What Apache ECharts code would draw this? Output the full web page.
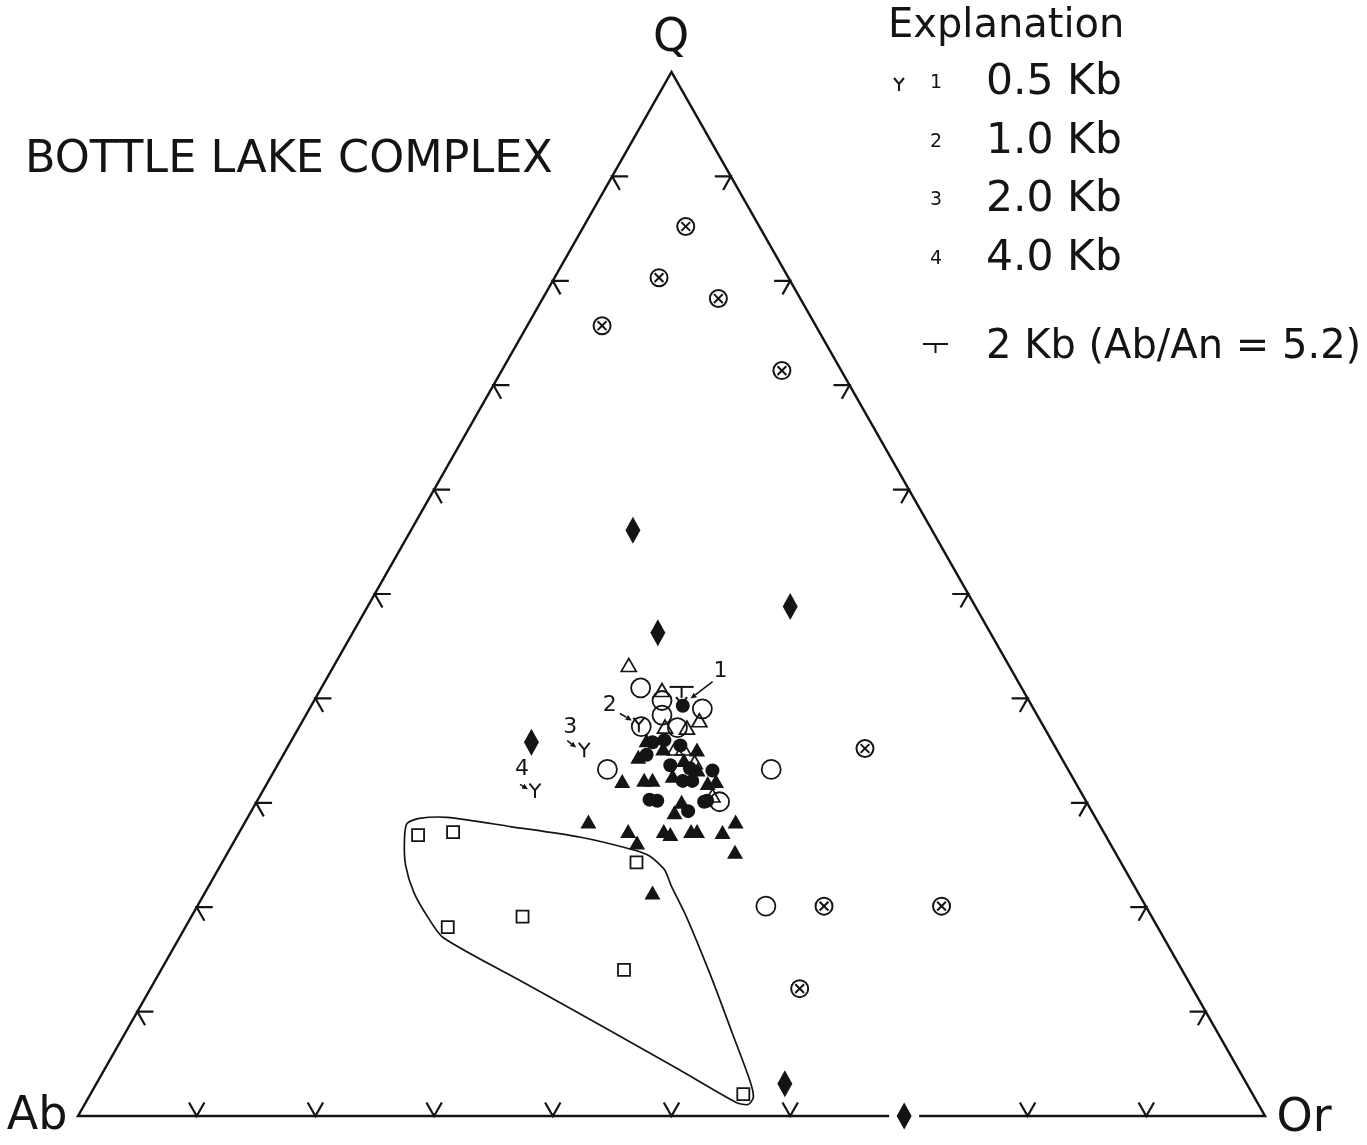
<!DOCTYPE html>
<html>
<head>
<meta charset="utf-8">
<script src="https://cdn.jsdelivr.net/npm/echarts@6/dist/echarts.min.js"></script>
<style>
  html, body { margin: 0; padding: 0; background: #ffffff; }
  #chart { width: 1367px; height: 1145px; }
</style>
</head>
<body>
<div id="chart"></div>
<script>
// Normative compositions, each as [Q, Ab, Or] in percent.
const crossedCircles = [
  [85.2, 6.2, 8.6], [80.3, 10.9, 8.8], [78.3, 6.9, 14.8], [75.7, 18.0, 6.3],
  [71.4, 5.0, 23.6], [35.2, 16.1, 48.7], [20.1, 27.1, 52.8], [20.1, 17.2, 62.7],
  [12.2, 33.1, 54.7]
];
const diamonds = [
  [56.1, 25.2, 18.7], [48.8, 15.6, 35.6], [46.3, 28.0, 25.7], [35.8, 43.9, 20.3],
  [3.1, 38.9, 58.0], [0.0, 30.4, 69.6]
];
const openSquares = [
  [26.9, 57.9, 15.2], [27.2, 54.8, 18.0], [18.1, 59.8, 22.1], [19.1, 53.0, 27.9],
  [14.0, 47.0, 39.0], [24.3, 40.8, 34.9], [2.1, 42.9, 55.0]
];
const openCircles = [
  [41.0, 32.1, 26.9], [39.8, 30.9, 29.3], [38.4, 31.6, 30.0], [39.0, 27.9, 33.1],
  [37.3, 33.9, 28.8], [37.2, 30.9, 31.9], [30.1, 30.9, 39.0], [33.2, 38.8, 28.0],
  [33.2, 25.0, 41.8], [20.1, 32.0, 47.9]
];
const openTriangles = [
  [43.2, 32.0, 24.8], [40.8, 30.4, 28.8], [37.9, 28.7, 33.4], [37.3, 31.9, 30.8],
  [37.2, 30.1, 32.7], [35.2, 32.1, 32.7], [35.2, 31.4, 33.4], [33.9, 31.1, 35.0],
  [30.7, 31.2, 38.1]
];
const filledTriangles = [
  [28.2, 42.9, 28.9], [27.3, 40.0, 32.7], [26.2, 39.8, 34.0], [27.3, 37.0, 35.7],
  [27.0, 36.6, 36.4], [27.3, 34.7, 38.0], [27.3, 34.2, 38.5], [27.2, 32.1, 40.7],
  [28.2, 30.5, 41.3], [25.3, 32.0, 42.7], [21.4, 40.9, 37.7], [32.1, 38.1, 29.8],
  [32.2, 36.2, 31.6], [32.2, 35.5, 32.3], [29.1, 35.2, 35.7], [30.1, 34.1, 35.8],
  [35.1, 30.3, 34.6], [33.2, 31.2, 35.6], [31.9, 31.0, 37.1], [32.6, 33.6, 33.8],
  [34.4, 35.6, 30.0], [36.0, 34.1, 29.9], [35.2, 33.1, 31.7], [34.1, 31.9, 34.0],
  [32.1, 30.2, 37.7]
];
const filledCircles = [
  [34.6, 34.8, 30.6], [30.3, 36.7, 33.0], [30.2, 36.1, 33.7], [33.6, 33.3, 33.1],
  [32.1, 33.0, 34.9], [32.1, 32.2, 35.7], [33.1, 30.0, 36.9], [30.2, 31.9, 37.9],
  [29.2, 34.0, 36.8], [30.1, 32.2, 37.7], [36.0, 32.6, 31.4], [35.5, 31.5, 33.0],
  [35.8, 33.7, 30.5], [33.3, 31.8, 34.9], [39.3, 29.4, 31.3]
];
// Experimental minimum-melt compositions at 0.5, 1.0, 2.0 and 4.0 kb
const minimumMelts = [
  [39.5, 29.4, 31.1], [37.5, 34.0, 28.5], [35.1, 39.8, 25.1], [31.2, 45.9, 22.9]
];
const minimumMeltLabels = ['1', '2', '3', '4'];
// 2 kb minimum for Ab/An = 5.2
const anorthiteMinimum = [[41.1, 28.6, 30.3]];
// Field enclosing the open squares
const squareField = [
  [28.0, 58.3, 13.7], [28.5, 57.0, 14.5], [28.6, 54.6, 16.8], [27.7, 49.6, 22.7],
  [26.7, 44.3, 29.0], [25.5, 40.5, 34.0], [24.9, 39.4, 35.7], [23.6, 38.8, 37.6],
  [22.0, 39.0, 39.0], [19.1, 39.2, 41.7], [13.3, 40.0, 46.7], [8.0, 40.9, 51.1],
  [3.4, 41.7, 54.9], [1.8, 42.2, 56.0], [1.1, 43.0, 55.9], [1.3, 43.9, 54.8],
  [4.4, 47.1, 48.5], [8.0, 50.9, 41.1], [13.0, 56.3, 30.7], [17.1, 60.7, 22.2],
  [19.0, 61.0, 20.0], [21.4, 61.0, 17.6], [24.0, 60.4, 15.6], [26.4, 59.3, 14.3]
];
const apexes = [[0, 100, 0], [100, 0, 0], [0, 0, 100]]; // Ab, Q, Or
const tickValues = [10, 20, 30, 40, 50, 60, 70, 80, 90];
const legendRows = ['0.5 Kb', '1.0 Kb', '2.0 Kb', '4.0 Kb'];

const INK = '#141414';
const FONT = "'DejaVu Sans', 'Liberation Sans', sans-serif";

// Ternary [Q, Ab, Or] -> plotting plane (x = Or + Q/2, y = Q)
function toXY(c) {
  const s = c[0] + c[1] + c[2];
  const q = c[0] / s * 100, or = c[2] / s * 100;
  return [or + q / 2, q];
}

// Pixel offsets for the minimum-melt annotations (label, arrow tail, arrow tip)
const meltAnnotation = [
  { label: [39, -32], from: [31, -22], to: [9, -5] },
  { label: [-29, -19], from: [-19, -11], to: [-7, -4] },
  { label: [-14, -22], from: [-17, -9], to: [-8, -2] },
  { label: [-13, -21], from: [-15, -6], to: [-7, -1] }
];

function yGlyph(cx, cy, scale) {
  const s = scale || 1;
  return {
    type: 'polyline',
    shape: { points: [[cx - 5 * s, cy - 6 * s], [cx, cy], [cx + 5 * s, cy - 6 * s]] },
    style: { stroke: INK, lineWidth: 2, fill: null }
  };
}
function yStem(cx, cy, scale) {
  const s = scale || 1;
  return {
    type: 'line',
    shape: { x1: cx, y1: cy, x2: cx, y2: cy + 7 * s },
    style: { stroke: INK, lineWidth: 2 }
  };
}
function arrow(x1, y1, x2, y2) {
  const dx = x2 - x1, dy = y2 - y1, L = Math.hypot(dx, dy);
  const ux = dx / L, uy = dy / L, nx = -uy, ny = ux;
  const bx = x2 - ux * 6, by = y2 - uy * 6;
  return [
    { type: 'line', shape: { x1, y1, x2: bx, y2: by }, style: { stroke: INK, lineWidth: 1.5 } },
    { type: 'polygon', shape: { points: [[x2, y2], [bx + nx * 2.8, by + ny * 2.8], [bx - nx * 2.8, by - ny * 2.8]] },
      style: { fill: INK } }
  ];
}
function label(x, y, text, size, align) {
  return {
    type: 'text', x, y,
    style: { text, font: size + 'px ' + FONT, fill: INK, textAlign: align, align,
             textVerticalAlign: 'middle', verticalAlign: 'middle' }
  };
}

const chart = echarts.init(document.getElementById('chart'), null, { renderer: 'canvas' });

const hollow = 'rgba(255,255,255,0)';

chart.setOption({
  backgroundColor: '#ffffff',
  animation: false,
  grid: { left: 78, right: 102, top: 72, bottom: 29 },
  xAxis: { type: 'value', min: 0, max: 100, show: false },
  yAxis: { type: 'value', min: 0, max: 100, show: false },
  graphic: [
    label(671, 39, 'Q', 46, 'center'),
    label(37, 1117, 'Ab', 46, 'center'),
    label(1304, 1119, 'Or', 46, 'center'),
    label(25, 160, 'BOTTLE LAKE COMPLEX', 44.5, 'left'),
    label(888, 27, 'Explanation', 40, 'left'),
    // legend: pressure rows
    ...legendRows.flatMap((t, i) => {
      const y = [83, 142, 200, 259][i];
      return [label(936, y, String(i + 1), 19, 'center'), label(986, y, t, 42.5, 'left')];
    }),
    { type: 'group', children: [yGlyph(899, 84, 1), yStem(899, 84, 1)] },
    // legend: Ab/An = 5.2 minimum
    { type: 'line', shape: { x1: 923, y1: 344, x2: 948, y2: 344 }, style: { stroke: INK, lineWidth: 2 } },
    { type: 'line', shape: { x1: 935.5, y1: 344, x2: 935.5, y2: 353 }, style: { stroke: INK, lineWidth: 2 } },
    label(986, 348, '2 Kb (Ab/An = 5.2)', 40, 'left')
  ],
  series: [
    {
      // triangle frame
      type: 'custom', name: 'frame', z: 1, silent: true,
      data: apexes.map(toXY),
      renderItem(params, api) {
        if (params.dataIndex !== 0) return null;
        const pts = apexes.map(a => api.coord(toXY(a)));
        return { type: 'polygon', shape: { points: pts }, style: { fill: null, stroke: INK, lineWidth: 2.5 } };
      }
    },
    {
      // 10 % ticks on all three sides, drawn along the composition isolines
      type: 'custom', name: 'ticks', z: 1, silent: true,
      data: tickValues.map(v => [v, 0]),
      renderItem(params, api) {
        const v = tickValues[params.dataIndex];
        const d = 1.3, h = 1.35;
        const c = t => api.coord(toXY(t));
        const ln = pts => ({ type: 'polyline', shape: { points: pts.map(c) }, style: { stroke: INK, lineWidth: 2.2, fill: null } });
        return {
          type: 'group',
          children: [
            ln([[d, 100 - v - d, v], [0, 100 - v, v], [d, 100 - v, v - d]]),
            ln([[v, 100 - v - h, h], [v, 100 - v, 0], [v - d, 100 - v, d]]),
            ln([[v, h, 100 - v - h], [v, 0, 100 - v], [v - d, d, 100 - v]])
          ]
        };
      }
    },
    {
      // outline of the open-square field
      type: 'custom', name: 'field', z: 2, silent: true,
      data: squareField.map(toXY),
      renderItem(params, api) {
        if (params.dataIndex !== 0) return null;
        const pts = squareField.map(p => api.coord(toXY(p)));
        return { type: 'polygon', shape: { points: pts, smooth: 0.25 }, style: { fill: null, stroke: INK, lineWidth: 1.7 } };
      }
    },
    {
      type: 'scatter', name: 'edge halo', z: 3, silent: true, clip: false,
      data: diamonds.filter(d => d[0] === 0).map(toXY),
      symbol: 'rect', symbolSize: [30, 34],
      itemStyle: { color: '#ffffff', opacity: 1 }
    },
    {
      type: 'scatter', name: 'open squares', z: 4, clip: false,
      data: openSquares.map(toXY),
      symbol: 'rect', symbolSize: 12,
      itemStyle: { color: hollow, borderColor: INK, borderWidth: 1.8, opacity: 1 }
    },
    {
      type: 'scatter', name: 'diamonds', z: 4, clip: false,
      data: diamonds.map(toXY),
      symbol: 'diamond', symbolSize: [15, 27],
      itemStyle: { color: INK, opacity: 1 }
    },
    {
      type: 'scatter', name: 'filled triangles', z: 4, clip: false,
      data: filledTriangles.map(toXY),
      symbol: 'triangle', symbolSize: [16, 14],
      itemStyle: { color: INK, opacity: 1 }
    },
    {
      type: 'scatter', name: 'filled circles', z: 4, clip: false,
      data: filledCircles.map(toXY),
      symbol: 'circle', symbolSize: 14,
      itemStyle: { color: INK, opacity: 1 }
    },
    {
      type: 'scatter', name: 'open triangles', z: 5, clip: false,
      data: openTriangles.map(toXY),
      symbol: 'triangle', symbolSize: [15, 13],
      itemStyle: { color: hollow, borderColor: INK, borderWidth: 1.7, opacity: 1 }
    },
    {
      type: 'scatter', name: 'open circles', z: 5, clip: false,
      data: openCircles.map(toXY),
      symbol: 'circle', symbolSize: 19,
      itemStyle: { color: hollow, borderColor: INK, borderWidth: 1.8, opacity: 1 }
    },
    {
      // circles with a cross
      type: 'custom', name: 'crossed circles', z: 5,
      data: crossedCircles.map(toXY),
      renderItem(params, api) {
        const p = api.coord([api.value(0), api.value(1)]);
        const r = 8.5, k = 4.4;
        return {
          type: 'group',
          children: [
            { type: 'circle', shape: { cx: p[0], cy: p[1], r }, style: { fill: '#fff', stroke: INK, lineWidth: 2 } },
            { type: 'line', shape: { x1: p[0] - k, y1: p[1] - k, x2: p[0] + k, y2: p[1] + k }, style: { stroke: INK, lineWidth: 2 } },
            { type: 'line', shape: { x1: p[0] - k, y1: p[1] + k, x2: p[0] + k, y2: p[1] - k }, style: { stroke: INK, lineWidth: 2 } }
          ]
        };
      }
    },
    {
      // minimum melts with numbered arrows
      type: 'custom', name: 'minimum melts', z: 6,
      data: minimumMelts.map(toXY),
      renderItem(params, api) {
        const i = params.dataIndex;
        const p = api.coord([api.value(0), api.value(1)]);
        const a = meltAnnotation[i];
        return {
          type: 'group',
          children: [
            yGlyph(p[0], p[1], 1.1), yStem(p[0], p[1], 1.1),
            label(p[0] + a.label[0], p[1] + a.label[1], minimumMeltLabels[i], 22, 'center'),
            ...arrow(p[0] + a.from[0], p[1] + a.from[1], p[0] + a.to[0], p[1] + a.to[1])
          ]
        };
      }
    },
    {
      // 2 kb minimum, Ab/An = 5.2
      type: 'custom', name: 'Ab/An 5.2', z: 6,
      data: anorthiteMinimum.map(toXY),
      renderItem(params, api) {
        const p = api.coord([api.value(0), api.value(1)]);
        return {
          type: 'group',
          children: [
            { type: 'line', shape: { x1: p[0] - 12, y1: p[1], x2: p[0] + 12, y2: p[1] }, style: { stroke: INK, lineWidth: 2 } },
            { type: 'line', shape: { x1: p[0], y1: p[1], x2: p[0], y2: p[1] + 11 }, style: { stroke: INK, lineWidth: 2 } }
          ]
        };
      }
    }
  ]
});
</script>
</body>
</html>
